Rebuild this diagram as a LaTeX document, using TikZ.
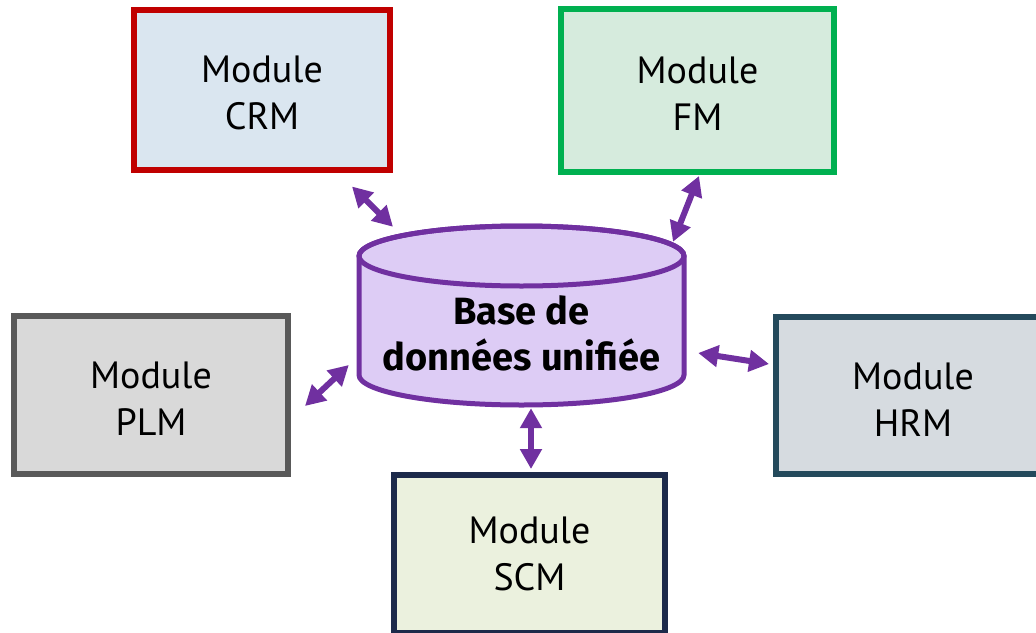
\documentclass[tikz,border=0pt]{standalone}
\usepackage{fontspec}
\setmainfont{PT Sans}
\newfontfamily\dbfont{Fira Sans}
\usetikzlibrary{arrows.meta}

\definecolor{arrowpurple}{HTML}{7030A0}
\definecolor{dbfill}{HTML}{DDCCF5}
\definecolor{crmdraw}{HTML}{C00000}
\definecolor{crmfill}{HTML}{DAE6F0}
\definecolor{fmdraw}{HTML}{00B050}
\definecolor{fmfill}{HTML}{D6EBDD}
\definecolor{plmdraw}{HTML}{595959}
\definecolor{plmfill}{HTML}{D9D9D9}
\definecolor{hrmdraw}{HTML}{244A5C}
\definecolor{hrmfill}{HTML}{D6DBE0}
\definecolor{scmdraw}{HTML}{1C2A4A}
\definecolor{scmfill}{HTML}{EBF1DE}

% extra room above the first line, so the two lines sit a little low in the box
\newcommand{\firstline}{\rule{0pt}{34pt}}

\tikzset{
  modbox/.style={rectangle, line width=6pt, align=center,
    font=\fontsize{38}{47}\selectfont, text=black, inner sep=0pt},
  link/.style={arrowpurple, line width=6pt,
    {Triangle[length=20pt,width=21pt]}-{Triangle[length=20pt,width=21pt]}}
}

\begin{document}
\begin{tikzpicture}[x=1pt,y=-1pt]
  \useasboundingbox (0,0) rectangle (1036,632);

  % unified database cylinder
  \filldraw[arrowpurple, line width=5pt, fill=dbfill]
    (359,256) -- (359,375)
    arc[start angle=180, end angle=360, x radius=162.5pt, y radius=30pt]
    -- (684,256)
    arc[start angle=0, end angle=180, x radius=162.5pt, y radius=30pt] -- cycle;
  \draw[arrowpurple, line width=5pt]
    (521.5,256) ellipse[x radius=162.5pt, y radius=30pt];
  \node[align=center, font=\dbfont\fontsize{38}{46}\bfseries\selectfont,
        minimum width=325pt, minimum height=180pt] (db) at (521.5,333)
    {Base de\\données unifiée};

  % modules
  \node[modbox, draw=crmdraw, fill=crmfill, minimum width=256pt, minimum height=160pt]
    (crm) at (262,89.5) {\firstline Module\\CRM};
  \node[modbox, draw=fmdraw, fill=fmfill, minimum width=273pt, minimum height=163pt]
    (fm) at (697.5,90) {\firstline Module\\FM};
  \node[modbox, draw=plmdraw, fill=plmfill, minimum width=274pt, minimum height=158pt]
    (plm) at (151,395) {\firstline Module\\PLM};
  \node[modbox, draw=hrmdraw, fill=hrmfill, minimum width=274pt, minimum height=157pt]
    (hrm) at (913,395.5) {\firstline Module\\HRM};
  \node[modbox, draw=scmdraw, fill=scmfill, minimum width=271pt, minimum height=158pt]
    (scm) at (529.5,554) {Module\\SCM};

  % link end points, placed relative to the nodes
  \coordinate (crm-end) at ([shift={(-41,14)}]crm.south east);
  \coordinate (crm-db)  at ([shift={(-128.5,-16)}]db.north);
  \coordinate (fm-end)  at ([shift={(1.5,1.5)}]fm.south);
  \coordinate (fm-db)   at ([shift={(151.5,-1)}]db.north);
  \coordinate (plm-end) at ([shift={(14,11)}]plm.east);
  \coordinate (plm-db)  at ([shift={(-10,32)}]db.west);
  \coordinate (hrm-end) at ([shift={(-4,-31.5)}]hrm.west);
  \coordinate (hrm-db)  at ([shift={(14,20)}]db.east);
  \coordinate (scm-end) at ([shift={(1.5,-3)}]scm.north);
  \coordinate (scm-db)  at ([shift={(9.5,-15)}]db.south);

  % bidirectional links
  \draw[link] (crm-end) -- (crm-db);
  \draw[link] (fm-end) -- (fm-db);
  \draw[link] (plm-end) -- (plm-db);
  \draw[link] (hrm-end) -- (hrm-db);
  \draw[link] (scm-end) -- (scm-db);
\end{tikzpicture}
\end{document}
